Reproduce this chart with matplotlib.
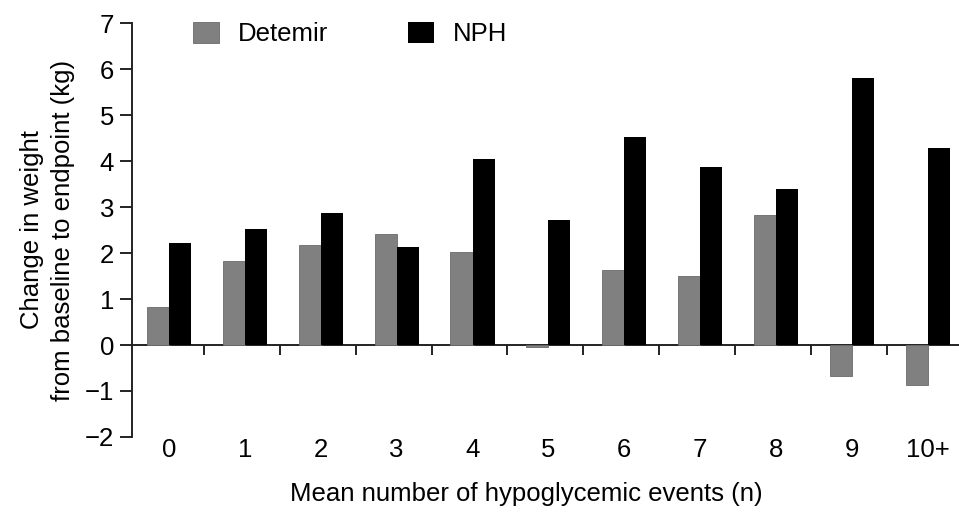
import numpy as np
import matplotlib
matplotlib.use("Agg")
import matplotlib.pyplot as plt

plt.rcParams['font.family'] = ['Liberation Sans', 'DejaVu Sans']

categories = ["0", "1", "2", "3", "4", "5", "6", "7", "8", "9", "10+"]
detemir = [0.83, 1.83, 2.18, 2.41, 2.02, -0.05, 1.63, 1.49, 2.82, -0.67, -0.87]
nph = [2.22, 2.52, 2.87, 2.12, 4.04, 2.72, 4.52, 3.87, 3.40, 5.80, 4.28]

x = np.arange(len(categories))
w = 0.29
fs = 18.5

fig = plt.figure(figsize=(9.59, 5.12), dpi=100)
ax = fig.add_axes([0.1376, 0.1465, 1 - 0.1376, 0.955 - 0.1465])

ax.bar(x - w / 2, detemir, w, color="#808080", edgecolor="#6a6a6a", linewidth=0.6, label="Detemir")
ax.bar(x + w / 2, nph, w, color="black", label="NPH")

ax.set_xlim(-0.487, 10.41)
ax.set_ylim(-2, 7)
ax.set_yticks(range(-2, 8))
ax.set_yticklabels([str(v).replace("-", "\u2212") for v in range(-2, 8)])
ax.set_xticks(x)
ax.set_xticklabels(categories)

for s in ["top", "right", "bottom"]:
    ax.spines[s].set_visible(False)
ax.spines["left"].set_linewidth(1.4)
ax.spines["left"].set_color("#222222")

ax.tick_params(axis="y", direction="out", length=9, width=1.4, pad=4, labelsize=fs, color="#222222")
ax.tick_params(axis="x", length=0, pad=1, labelsize=fs)

# zero line with small separator ticks between groups
zero = ax.secondary_xaxis(2 / 9)
zero.set_xticks(x[:-1] + 0.46)
zero.set_xticklabels([])
zero.tick_params(direction="out", length=7, width=1.4, color="#222222")
zero.spines["bottom"].set_linewidth(1.4)
zero.spines["bottom"].set_color("#222222")

ax.set_ylabel("Change in weight\nfrom baseline to endpoint (kg)", fontsize=fs, labelpad=7, linespacing=1.35)
ax.set_xlabel("Mean number of hypoglycemic events (n)", fontsize=fs)
ax.xaxis.set_label_coords(0.477, -0.108)

ax.legend(loc="center left", bbox_to_anchor=(193 / 959, 1 - 34 / 512), bbox_transform=fig.transFigure,
          ncol=2, frameon=False, fontsize=fs, borderpad=0, borderaxespad=0,
          handlelength=1.0, handleheight=0.9, handletextpad=0.75, columnspacing=3.1)

fig.savefig("out.png", dpi=100)
